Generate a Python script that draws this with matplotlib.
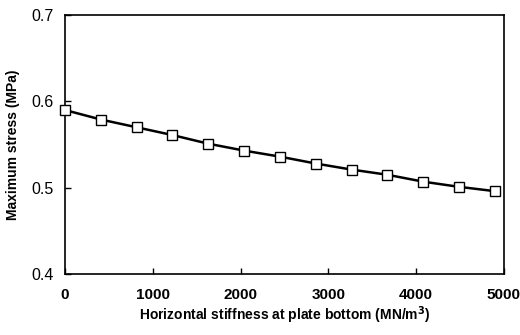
import matplotlib.pyplot as plt

# 数据
stiffness = [0, 408, 816, 1224, 1632, 2040, 2449, 2857, 3265, 3673, 4081, 4490, 4898]
max_stress = [0.590, 0.579, 0.570, 0.561, 0.551, 0.543, 0.536, 0.528, 0.521, 0.515, 0.507, 0.501, 0.496]
x_ticks = [0, 1000, 2000, 3000, 4000, 5000]
y_ticks = [0.4, 0.5, 0.6, 0.7]

plt.rcParams['font.family'] = ['Liberation Sans', 'DejaVu Sans']

fig, ax = plt.subplots(figsize=(5.2, 3.35), dpi=100)
fig.subplots_adjust(left=0.125, right=0.969, top=0.955, bottom=0.182)

ax.plot(stiffness, max_stress, color='black', linewidth=1.8, marker='s',
        markersize=7.5, markerfacecolor='white', markeredgecolor='black', markeredgewidth=1.0,
        clip_on=False, zorder=3)

ax.set_xlim(0, 5000)
ax.set_ylim(0.4, 0.7)
ax.set_xticks(x_ticks)
ax.set_yticks(y_ticks)
ax.set_yticklabels([f'{v:.1f}' for v in y_ticks])
ax.tick_params(direction='in', length=4, width=1, labelsize=11.5, pad=8)
ax.tick_params(axis='x', labelsize=11, pad=10)
for lbl in ax.get_xticklabels():
    lbl.set_fontweight('bold')

for s in ax.spines.values():
    s.set_linewidth(1.2)

ax.set_xlabel('Horizontal stiffness at plate bottom (MN/m$^\\mathbf{3}$)', fontsize=10, fontweight='bold', labelpad=2)
ax.set_ylabel('Maximum stress (MPa)', fontsize=10, fontweight='bold', labelpad=8)

plt.savefig('out.png', dpi=100)
plt.close()
